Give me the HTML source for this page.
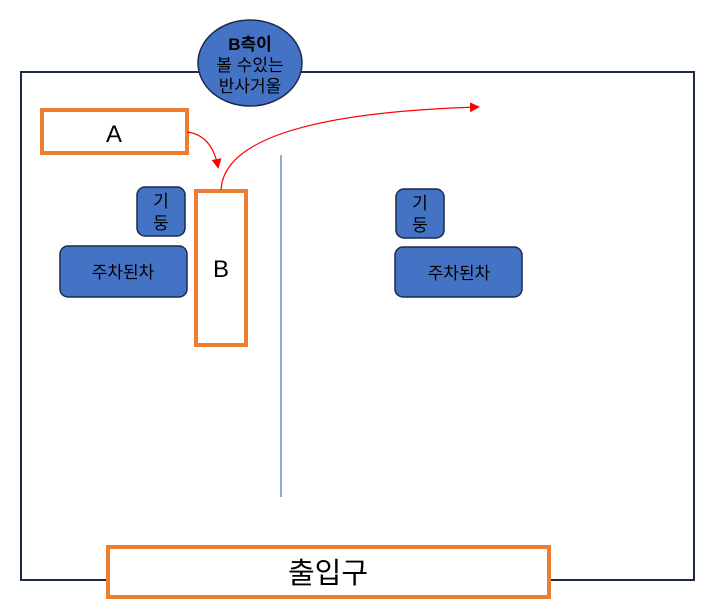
<!DOCTYPE html>
<html><head><meta charset="utf-8"><style>body{margin:0;background:#fff}svg{display:block}text{font-family:"Liberation Sans","Noto Sans CJK KR",sans-serif;fill:#000}</style></head><body>
<svg width="709" height="607" viewBox="0 0 709 607" xmlns="http://www.w3.org/2000/svg">
<defs><marker id="ah" markerWidth="10" markerHeight="10" refX="8" refY="5" orient="auto" markerUnits="userSpaceOnUse"><path d="M0,0 L10,5 L0,10 z" fill="#f00"/></marker></defs>
<rect x="21" y="72" width="673" height="508" fill="none" stroke="#1b2a47" stroke-width="2"/>
<line x1="281" y1="155" x2="281" y2="497" stroke="#4472c4" stroke-width="1.2"/>
<rect x="42" y="110" width="145" height="43" fill="#fff" stroke="#ed7d31" stroke-width="4"/>
<text x="114" y="142" font-size="24" text-anchor="middle">A</text>
<rect x="196" y="191" width="50" height="154" fill="#fff" stroke="#ed7d31" stroke-width="4"/>
<text x="221" y="277" font-size="24" text-anchor="middle">B</text>
<rect x="108" y="547" width="441" height="50" fill="#fff" stroke="#ed7d31" stroke-width="4"/>
<text x="328" y="583" font-size="29" text-anchor="middle">출입구</text>
<g fill="#4472c4" stroke="#1b2a47" stroke-width="1.5">
<rect x="137" y="187" width="48" height="49" rx="8"/>
<rect x="396" y="189" width="48" height="49" rx="8"/>
<rect x="60" y="246" width="127" height="51" rx="8"/>
<rect x="395" y="247" width="127" height="50" rx="8"/>
<ellipse cx="250" cy="63" rx="52" ry="43"/>
</g>
<g font-size="17" text-anchor="middle">
<text x="161" y="207">기</text><text x="161" y="229">둥</text>
<text x="420" y="209">기</text><text x="420" y="231">둥</text>
<text x="123" y="278">주차된차</text>
<text x="459" y="279">주차된차</text>
<text x="250" y="50" font-weight="bold">B측이</text>
<text x="250" y="71">볼 수있는</text>
<text x="250" y="92">반사거울</text>
</g>
<path d="M187,132 Q212,135 218,167" fill="none" stroke="#f00" stroke-width="1.2" marker-end="url(#ah)"/>
<path d="M221,190 Q225,115 478,107" fill="none" stroke="#f00" stroke-width="1.2" marker-end="url(#ah)"/>
</svg>
</body></html>
